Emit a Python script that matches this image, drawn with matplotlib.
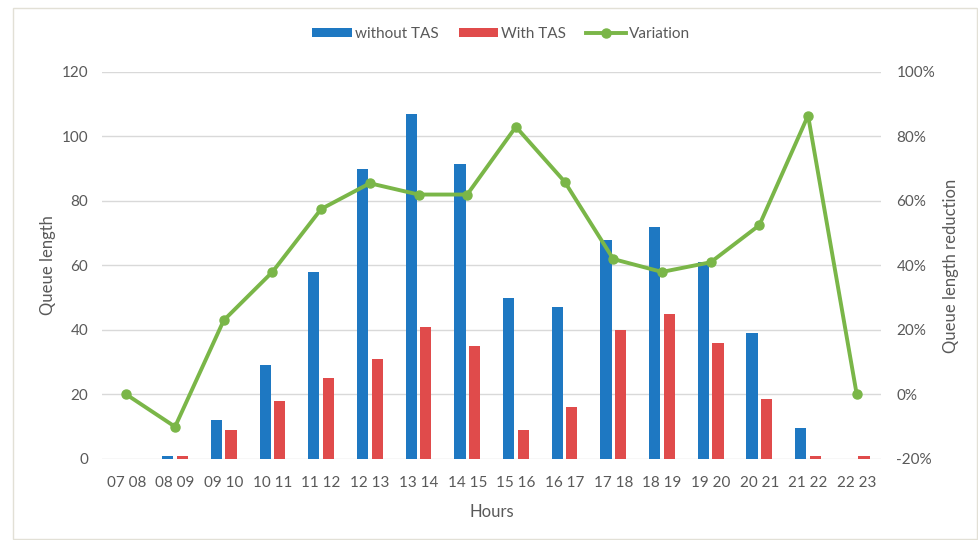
import numpy as np
import matplotlib
matplotlib.use("Agg")
import matplotlib.pyplot as plt
from matplotlib.patches import Rectangle

hours = ["07 08", "08 09", "09 10", "10 11", "11 12", "12 13", "13 14", "14 15",
         "15 16", "16 17", "17 18", "18 19", "19 20", "20 21", "21 22", "22 23"]
without_tas = [0, 1, 12, 29, 58, 90, 107, 91.5, 50, 47, 68, 72, 61, 39, 9.5, 0]
with_tas = [0, 1, 9, 18, 25, 31, 41, 35, 9, 16, 40, 45, 36, 18.5, 1, 0.8]
variation = [0, -10, 23, 38, 57.5, 65.5, 62, 62, 83, 66, 42, 38, 41, 52.5, 86.5, 0]

plt.rcParams['font.family'] = ['Lato', 'DejaVu Sans']
text_color = '#595959'
color_without = '#1E78C2'
color_with = '#E04B4B'
color_var = '#7AB648'

fig = plt.figure(figsize=(9.79, 5.40), dpi=100)
ax = fig.add_axes([0.1042, 0.15, 0.7958, 0.7167])

x = np.arange(len(hours))
w = 0.23
ax.bar(x - 0.15, without_tas, width=w, color=color_without, label='without TAS', zorder=2)
ax.bar(x + 0.15, with_tas, width=w, color=color_with, label='With TAS', zorder=2)

ax.set_ylim(0, 120)
ax.set_yticks(range(0, 121, 20))
ax.set_xlim(-0.5, len(hours) - 0.5)
ax.set_xticks(x)
ax.set_xticklabels(hours)
ax.grid(axis='y', color='#D9D9D9', linewidth=1, zorder=0)
ax.set_axisbelow(True)
for s in ax.spines.values():
    s.set_visible(False)
ax.tick_params(length=0, labelsize=11, colors=text_color, pad=12)
ax.tick_params(axis='y', pad=10)
ax.set_ylabel('Queue length', fontsize=12, color=text_color, labelpad=4)
ax.set_xlabel('Hours', fontsize=12, color=text_color, labelpad=10)

ax2 = ax.twinx()
ax2.plot(x, variation, color=color_var, linewidth=2.8, marker='o', markersize=6.5,
         label='Variation', zorder=3)
ax2.set_ylim(-20, 100)
ax2.set_yticks(range(-20, 101, 20))
ax2.set_yticklabels([f'{v}%' for v in range(-20, 101, 20)])
for s in ax2.spines.values():
    s.set_visible(False)
ax2.tick_params(length=0, labelsize=11, colors=text_color, pad=11)
ax2.set_ylabel('Queue length reduction', fontsize=12, color=text_color, labelpad=6)

h1, l1 = ax.get_legend_handles_labels()
h2, l2 = ax2.get_legend_handles_labels()
fig.legend(h1 + h2, l1 + l2, loc='center', bbox_to_anchor=(0.512, 0.937), ncol=3,
           frameon=False, fontsize=11, labelcolor=text_color, handlelength=2.6,
           handleheight=0.55, columnspacing=1.3, handletextpad=0.2)

fig.patches.append(Rectangle((0.013, 0.002), 0.985, 0.983, transform=fig.transFigure,
                             fill=False, edgecolor='#E2E0D6', linewidth=1))

fig.savefig('out.png', dpi=100)
